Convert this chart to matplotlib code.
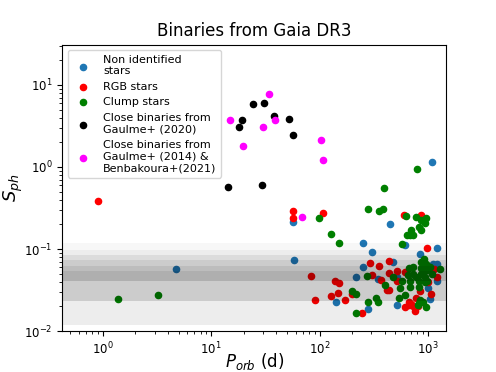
import numpy as np
import matplotlib
matplotlib.use('Agg')
import matplotlib.pyplot as plt

# Non identified stars
p_none = [4.69, 57.1, 57.6, 1089, 449, 254, 620, 304, 1224, 844, 478, 254, 1120, 1203,
          216, 349, 523, 1203, 1011, 1055, 141.6, 523, 282.5]
s_none = [0.0565, 0.216, 0.0729, 1.14, 0.201, 0.12, 0.111, 0.0924, 0.103, 0.0874, 0.0697, 0.061, 0.0664, 0.0664,
          0.0456, 0.0431, 0.0451, 0.0403, 0.0334, 0.0249, 0.0227, 0.0209, 0.0188]

# RGB stars
p_rgb = [0.9, 57.1, 57.1, 106.7, 601, 857, 990, 294.6, 351, 437, 1136, 523, 620, 83.7, 139.4, 150,
         304, 366, 437, 517, 1203, 1011, 419, 437, 844, 149.3, 199, 128.6, 775, 1077, 91.5, 171.4,
         668, 705, 620, 675, 727, 809, 759, 248.5]
s_rgb = [0.39, 0.288, 0.239, 0.275, 0.26, 0.26, 0.103, 0.0683, 0.0628, 0.0722, 0.0571, 0.0545, 0.0519, 0.0469, 0.0411, 0.0385,
         0.048, 0.0417, 0.0508, 0.0403, 0.0451, 0.0391, 0.0321, 0.0318, 0.031, 0.0295, 0.0282, 0.0267, 0.0256, 0.0282, 0.0238, 0.0238,
         0.0229, 0.0213, 0.0197, 0.0209, 0.0203, 0.0203, 0.0176, 0.0166]

# Clump stars
p_clump = [1.38, 3.2, 791, 389, 98.6, 282, 355, 382, 628, 783, 969, 871, 938, 820, 867, 705, 690, 727, 640,
           128.6, 150.9, 579, 929, 871, 727, 990, 1291, 675, 871, 273.5, 478, 582, 658, 690, 727, 783, 871,
           938, 990, 826, 938, 401, 552, 690, 826, 199, 215, 545, 620, 331, 349, 282.5, 844, 906, 826, 815,
           969, 215, 1000, 950, 1050, 900, 1100]
s_clump = [0.0247, 0.0277, 0.94, 0.548, 0.239, 0.311, 0.291, 0.311, 0.25, 0.244, 0.237, 0.224, 0.207, 0.185, 0.173, 0.169, 0.149, 0.149, 0.149,
           0.152, 0.12, 0.115, 0.075, 0.0697, 0.061, 0.0628, 0.0571, 0.0588, 0.0588, 0.0469, 0.0451, 0.0411, 0.048, 0.0411, 0.0493, 0.0451, 0.0493,
           0.0451, 0.0411, 0.0403, 0.0391, 0.0367, 0.0334, 0.0347, 0.034, 0.031, 0.0287, 0.0256, 0.0277, 0.0256, 0.0229, 0.0229, 0.0242, 0.0229, 0.0221, 0.0209,
           0.0197, 0.0166, 0.055, 0.065, 0.06, 0.052, 0.05]

# Close binaries Gaulme+ (2020)
p_g20 = [24.4, 31, 19.2, 18, 37.6, 52.5, 56.7, 14.4, 29.5]
s_g20 = [5.8, 6.05, 3.7, 3.1, 4.14, 3.88, 2.45, 0.57, 0.6]

# Close binaries Gaulme+ (2014) & Benbakoura+ (2021)
p_g14 = [34, 14.9, 30, 19.7, 39, 103.5, 108, 68.3]
s_g14 = [7.8, 3.7, 3.1, 1.78, 3.74, 2.13, 1.22, 0.244]

# grey S_ph ranges
band_lo = [0.012, 0.012, 0.0235, 0.0235, 0.041, 0.041]
band_hi = [0.12, 0.097, 0.084, 0.073, 0.063, 0.054]
band_alpha = [0.03, 0.04, 0.07, 0.07, 0.07, 0.07]

fig, ax = plt.subplots(figsize=(4.96, 3.72), dpi=100)

ax.scatter(p_none, s_none, s=20, color='#1f77b4', label='Non identified\nstars')
ax.scatter(p_rgb, s_rgb, s=20, color='red', label='RGB stars')
ax.scatter(p_clump, s_clump, s=20, color='green', label='Clump stars')
ax.scatter(p_g20, s_g20, s=20, color='black', label='Close binaries from\nGaulme+ (2020)')
ax.scatter(p_g14, s_g14, s=20, color='magenta',
           label='Close binaries from\nGaulme+ (2014) &\nBenbakoura+(2021)')

for lo, hi, a in zip(band_lo, band_hi, band_alpha):
    ax.axhspan(lo, hi, color='black', alpha=a, lw=0)

ax.set_xscale('log')
ax.set_yscale('log')
ax.set_xlim(0.42, 1480)
ax.set_ylim(0.01, 31)
ax.tick_params(labelsize=8.5)
ax.set_title('Binaries from Gaia DR3')
ax.set_xlabel('$P_{orb}$ (d)', fontsize=12)
ax.set_ylabel('$S_{ph}$', fontsize=13)
ax.xaxis.set_label_coords(0.5, -0.07)
ax.yaxis.set_label_coords(-0.095, 0.5)
ax.legend(loc='upper left', fontsize=8)

plt.savefig('out.png', dpi=100)
